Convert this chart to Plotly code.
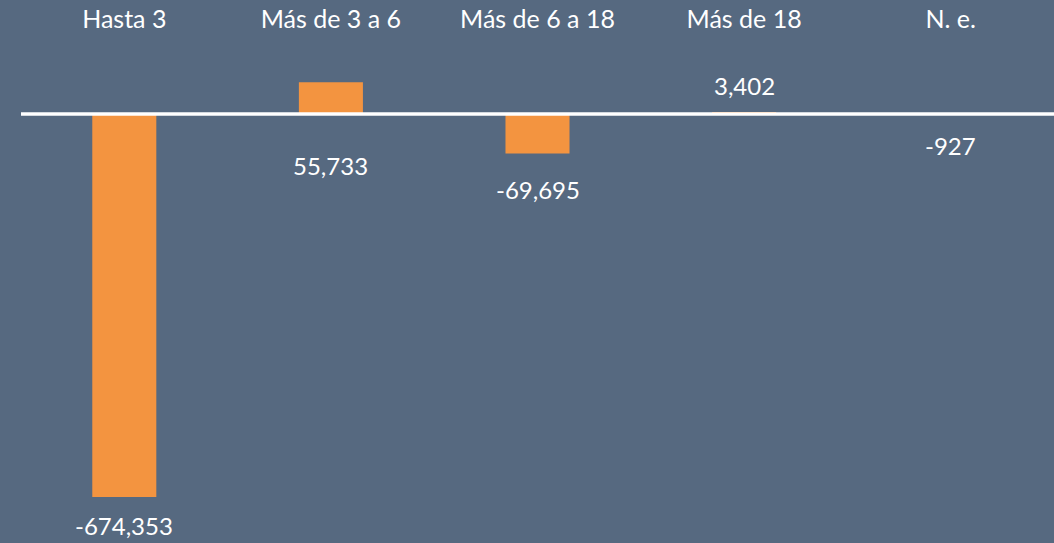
import plotly.graph_objects as go

categories = ["Hasta 3", "Más de 3 a 6", "Más de 6 a 18", "Más de 18", "N. e."]
values = [-674353, 55733, -69695, 3402, -927]
value_labels = ["-674,353", "55,733", "-69,695", "3,402", "-927"]
label_shifts = [-28, -83, -36, 27, -31]

BG = "#566980"
BAR = "#F39440"
FONT = "Lato"

fig = go.Figure()
fig.add_trace(go.Bar(
    x=categories, y=values, marker=dict(color=BAR, line=dict(width=0)),
    width=0.31, hoverinfo="skip",
))

for c, v, t, s in zip(categories, values, value_labels, label_shifts):
    fig.add_annotation(x=c, y=v, text=t, showarrow=False, yshift=s,
                       font=dict(family=FONT, size=24, color="white"))

fig.add_shape(type="line", xref="paper", yref="y", x0=0, x1=1, y0=0, y1=0,
              line=dict(color="white", width=3.5), layer="above")

fig.update_layout(
    width=1054, height=543,
    paper_bgcolor=BG, plot_bgcolor=BG,
    margin=dict(l=21, r=0, t=34, b=0),
    showlegend=False,
    bargap=0.69,
    xaxis=dict(side="top", showgrid=False, showline=False, ticks="",
               tickfont=dict(family=FONT, size=25, color="white")),
    yaxis=dict(range=[-755340, 140856], showgrid=False, showticklabels=False,
               zeroline=False),
)

fig.write_html("out.html", config={"displayModeBar": False},
               post_script="document.body.style.margin='0';document.body.style.background='%s';" % BG)
